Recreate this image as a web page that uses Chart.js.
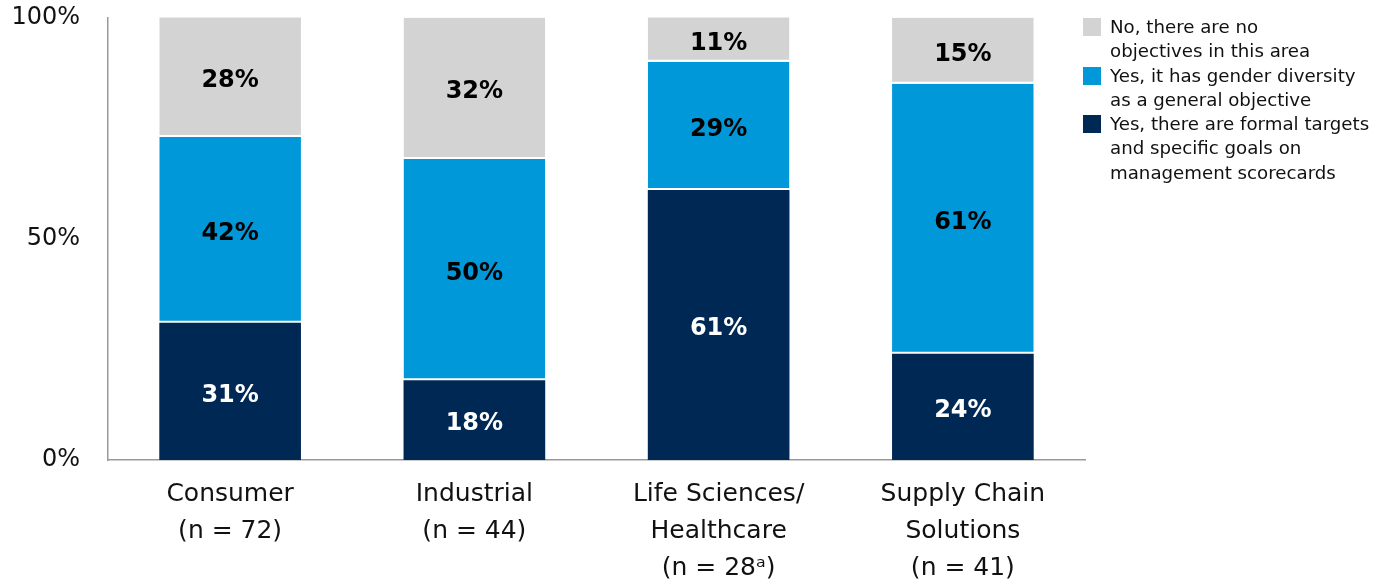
<!DOCTYPE html>
<html>
<head>
<meta charset="utf-8">
<script src="https://cdn.jsdelivr.net/npm/chart.js@4.4.0/dist/chart.umd.min.js"></script>
<style>
  html, body { margin: 0; padding: 0; background: #fff; overflow: hidden; }
  #wrap { position: relative; width: 1388px; height: 586px; overflow: hidden; }
  #c { position: absolute; left: 0; top: -25px; }
  #legend { position: absolute; left: 1083px; top: 15px; width: 305px;
    font-family: "DejaVu Sans", sans-serif; font-size: 18.2px; line-height: 24.3px; color: #111; }
  .item { display: flex; align-items: flex-start; }
  .box { width: 18px; height: 18px; flex: 0 0 18px; margin-top: 3px; margin-right: 9px; }
</style>
</head>
<body>
<div id="wrap">
  <canvas id="c" width="1388" height="611"></canvas>
  <div id="legend"></div>
</div>
<script>
const categories = [
  ["Consumer", "(n = 72)"],
  ["Industrial", "(n = 44)"],
  ["Life Sciences/", "Healthcare", "(n = 28\u1d43)"],
  ["Supply Chain", "Solutions", "(n = 41)"]
];
const formalTargets = [31, 18, 61, 24];
const generalObjective = [42, 50, 29, 61];
const noObjectives = [28, 32, 11, 15];
const seriesNames = [
  "Yes, there are formal targets and specific goals on management scorecards",
  "Yes, it has gender diversity as a general objective",
  "No, there are no objectives in this area"
];
const legendLines = [
  ["Yes, there are formal targets", "and specific goals on", "management scorecards"],
  ["Yes, it has gender diversity", "as a general objective"],
  ["No, there are no", "objectives in this area"]
];
const colors = ["#002855", "#0098D8", "#D3D3D3"];
const labelColors = ["#ffffff", "#000000", "#000000"];
const yTicks = [0, 50, 100];

const FONT = "'DejaVu Sans', sans-serif";

const segLabels = {
  id: 'segLabels',
  afterDatasetsDraw(chart) {
    const ctx = chart.ctx;
    const area = chart.chartArea;
    ctx.save();
    ctx.font = "bold 24px " + FONT;
    ctx.textAlign = "center";
    ctx.textBaseline = "middle";
    chart.data.datasets.forEach((ds, di) => {
      const meta = chart.getDatasetMeta(di);
      meta.data.forEach((el, i) => {
        const top = Math.max(el.y, area.top);
        const bot = Math.min(el.base, area.bottom);
        ctx.fillStyle = labelColors[di];
        ctx.fillText(ds.data[i] + "%", el.x, (top + bot) / 2 + 4);
      });
    });
    ctx.restore();
  }
};

const datasets = [formalTargets, generalObjective, noObjectives].map((d, i) => ({
  label: seriesNames[i],
  data: d,
  backgroundColor: colors[i],
  borderColor: "#ffffff",
  borderWidth: {top: 0, left: 0, right: 0, bottom: i === 0 ? 0 : 2},
  borderSkipped: false,
  categoryPercentage: 1,
  barPercentage: 0.58
}));

new Chart(document.getElementById('c'), {
  type: 'bar',
  data: { labels: categories, datasets },
  options: {
    responsive: false,
    animation: false,
    layout: { padding: { top: 0, right: 303, left: 0, bottom: 0 } },
    plugins: { legend: { display: false }, tooltip: { enabled: false } },
    scales: {
      x: {
        stacked: true,
        grid: { display: false, drawTicks: false },
        border: { display: true, color: "#9a9a9a", width: 1.5 },
        ticks: { color: "#111", font: { family: FONT, size: 25, lineHeight: 1.48 }, padding: 16, maxRotation: 0, autoSkip: false },
        afterFit(s) { s.height = 126; }
      },
      y: {
        stacked: true,
        min: 0, max: 100,
        afterBuildTicks(s) { s.ticks = yTicks.map(v => ({ value: v })); },
        grid: { display: false, drawTicks: false },
        border: { display: true, color: "#9a9a9a", width: 1.5 },
        ticks: { color: "#111", font: { family: FONT, size: 24 }, padding: 28, callback: v => v + "%" },
        afterFit(s) { s.width = 108; }
      }
    }
  },
  plugins: [segLabels]
});

const legend = document.getElementById('legend');
[2, 1, 0].forEach(i => {
  const item = document.createElement('div');
  item.className = 'item';
  const box = document.createElement('div');
  box.className = 'box';
  box.style.background = colors[i];
  const txt = document.createElement('div');
  txt.innerHTML = legendLines[i].join("<br>");
  item.appendChild(box); item.appendChild(txt);
  legend.appendChild(item);
});
</script>
</body>
</html>
